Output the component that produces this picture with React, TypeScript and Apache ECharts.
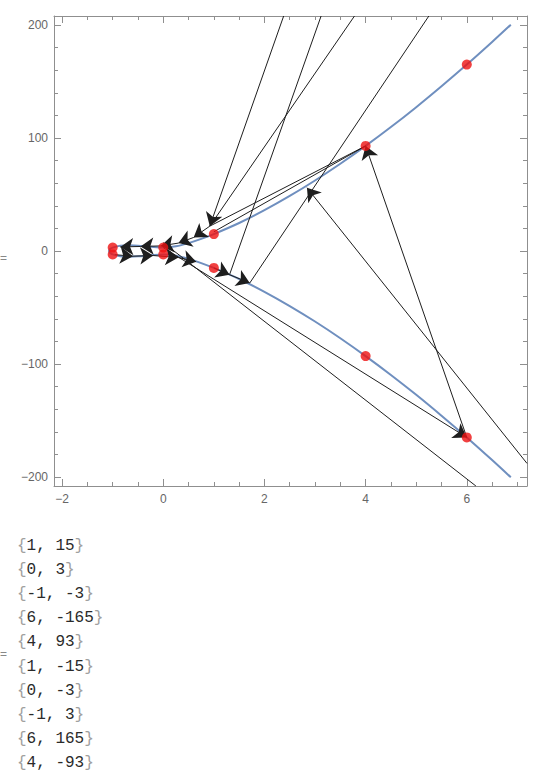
import React, { useEffect, useRef } from "react";
import * as echarts from "echarts";

// axis extents and ticks
const X_RANGE = [-2.16, 7.19];
const Y_RANGE = [-208, 208];
const X_MAJOR = [-2, 0, 2, 4, 6];
const X_MINOR = [-2, -1.5, -1, -0.5, 0, 0.5, 1, 1.5, 2, 2.5, 3, 3.5, 4, 4.5, 5, 5.5, 6, 6.5, 7];
const Y_MAJOR = [-200, -100, 0, 100, 200];
const Y_MINOR = [-200, -180, -160, -140, -120, -100, -80, -60, -40, -20, 0, 20, 40, 60, 80, 100, 120, 140, 160, 180, 200];

// the curve (lower branch from right, through the nose, upper branch to right)
const CURVE_X = [6.87, 6.5, 6, 5.5, 5, 4.5, 4, 3.5, 3, 2.5, 2, 1.5, 1, 0.75, 0.5, 0.25, 0, -0.25, -0.5, -0.67, -0.85, -1, -1.04, -1.06, -1.072,
  -1.06, -1.04, -1, -0.85, -0.67, -0.5, -0.25, 0, 0.25, 0.5, 0.75, 1, 1.5, 2, 2.5, 3, 3.5, 4, 4.5, 5, 5.5, 6, 6.5, 6.87];
const CURVE_Y = [-200.3, -185, -165, -145.8, -127.3, -109.7, -93, -77.2, -62.4, -48.7, -36.1, -24.8, -15, -10.7, -7.0, -4.2, -3, -3.75, -4.7, -5, -4.55, -3, -2.1, -1.3, 0,
  1.3, 2.1, 3, 4.55, 5, 4.7, 3.75, 3, 4.2, 7.0, 10.7, 15, 24.8, 36.1, 48.7, 62.4, 77.2, 93, 109.7, 127.3, 145.8, 165, 185, 200.3];

// red points
const POINTS_X = [1, 0, -1, 6, 4, 1, 0, -1, 6, 4];
const POINTS_Y = [15, 3, -3, -165, 93, -15, -3, 3, 165, -93];

// construction lines [x1, y1, x2, y2]
const PLAIN_SEGMENTS = [
  [3.78, 208, 0.92, 22],
  [3.12, 208, 1.31, -21],
  [5.25, 208, 1.71, -28.3],
  [4, 93, 0.92, 22],
  [4, 93, 1.0, 17],
  [0.0, 7.4, 6.18, -208],
];
const ARROW_SEGMENTS = [
  [2.38, 208, 0.92, 22],
  [7.19, -188, 2.84, 56],
  [6, -165, 4, 93],
  [0, 3, 6, -165],
  [0.92, 22, 0.6, 12],
  [0.6, 12, 0.3, 7],
  [0.3, 7, -0.05, 4.5],
  [-0.05, 4.5, -0.45, 4],
  [-0.45, 4, -0.85, 3.6],
  [-0.95, -3.3, -0.6, -4.6],
  [-0.6, -4.6, -0.2, -4],
  [-0.2, -4, 0.3, -5.8],
  [0.3, -5.8, 0.65, -9.5],
  [1.0, -15, 1.31, -21],
  [1.31, -21, 1.71, -28.3],
];

// printed output list
const LIST_X = [1, 0, -1, 6, 4, 1, 0, -1, 6, 4];
const LIST_Y = [15, 3, -3, -165, 93, -15, -3, 3, 165, -93];

const FRAME = "#8f8f8f";
const LABEL = "#666666";
const minus = (v: number) => (v < 0 ? "\u2212" + Math.abs(v) : String(v));

function xAxis(position: string, values: number[], len: number, labels: boolean, line: boolean) {
  return {
    type: "value",
    position,
    min: X_RANGE[0],
    max: X_RANGE[1],
    axisLine: { show: line, onZero: false, lineStyle: { color: FRAME, width: 1 } },
    axisTick: { show: true, inside: true, length: len, customValues: values, lineStyle: { color: FRAME, width: 1 } },
    axisLabel: {
      show: labels,
      customValues: values,
      formatter: (v: number) => minus(v),
      color: LABEL,
      fontSize: 12,
      fontFamily: "Liberation Sans",
      margin: 7,
    },
    splitLine: { show: false },
  };
}
function yAxis(position: string, values: number[], len: number, labels: boolean, line: boolean) {
  return {
    type: "value",
    position,
    min: Y_RANGE[0],
    max: Y_RANGE[1],
    axisLine: { show: line, onZero: false, lineStyle: { color: FRAME, width: 1 } },
    axisTick: { show: true, inside: true, length: len, customValues: values, lineStyle: { color: FRAME, width: 1 } },
    axisLabel: {
      show: labels,
      customValues: values,
      formatter: (v: number) => minus(v),
      color: LABEL,
      fontSize: 12,
      fontFamily: "Liberation Sans",
      margin: 6,
    },
    splitLine: { show: false },
  };
}

export default function App() {
  const ref = useRef<HTMLDivElement>(null);
  useEffect(() => {
    if (!ref.current) return;
    const chart = echarts.init(ref.current, null, { renderer: "svg" });
    const curve = CURVE_X.map((x, i) => [x, CURVE_Y[i]]);
    const pts = POINTS_X.map((x, i) => [x, POINTS_Y[i]]);
    const seg = (s: number[]) => ({ coords: [[s[0], s[1]], [s[2], s[3]]] });
    const listTexts = LIST_X.map((x, i) => ({
      type: "text",
      left: 17,
      top: 538 + i * 24.1,
      style: {
        text: "{{c|" + x + ", " + LIST_Y[i] + "}}",
        fill: "#a0a0a0",
        font: '16px "Liberation Mono", monospace',
        rich: { c: { fill: "#2a2a2a", font: '16px "Liberation Mono", monospace' } },
      },
    }));
    chart.setOption({
      animation: false,
      backgroundColor: "#ffffff",
      grid: { left: 54, right: 13, top: 16, bottom: 294, containLabel: false },
      xAxis: [
        xAxis("bottom", X_MAJOR, 7, true, true),
        xAxis("bottom", X_MINOR, 4, false, false),
        xAxis("top", X_MAJOR, 7, false, true),
        xAxis("top", X_MINOR, 4, false, false),
      ],
      yAxis: [
        yAxis("left", Y_MAJOR, 7, true, true),
        yAxis("left", Y_MINOR, 4, false, false),
        yAxis("right", Y_MAJOR, 7, false, true),
        yAxis("right", Y_MINOR, 4, false, false),
      ],
      series: [
        {
          type: "line",
          xAxisIndex: 0,
          yAxisIndex: 0,
          data: curve,
          showSymbol: false,
          smooth: 0.3,
          lineStyle: { color: "#6f8fbf", width: 2 },
          z: 2,
          silent: true,
        },
        {
          type: "lines",
          coordinateSystem: "cartesian2d",
          xAxisIndex: 0,
          yAxisIndex: 0,
          data: PLAIN_SEGMENTS.map(seg),
          symbol: ["none", "none"],
          lineStyle: { color: "#1e1e1e", width: 1, opacity: 1 },
          z: 3,
          silent: true,
        },
        {
          type: "lines",
          coordinateSystem: "cartesian2d",
          xAxisIndex: 0,
          yAxisIndex: 0,
          data: ARROW_SEGMENTS.map(seg),
          symbol: ["none", "arrow"],
          symbolSize: [9, 13],
          lineStyle: { color: "#1e1e1e", width: 1, opacity: 1 },
          itemStyle: { color: "#000000" },
          z: 4,
          silent: true,
        },
        {
          type: "scatter",
          xAxisIndex: 0,
          yAxisIndex: 0,
          data: pts,
          symbolSize: 10,
          itemStyle: { color: "#ee1111" },
          z: 5,
          silent: true,
        },
      ],
      graphic: [
        { type: "text", left: 0, top: 252, style: { text: "=", fill: "#888888", font: "12px Liberation Sans" } },
        { type: "text", left: 0, top: 648, style: { text: "=", fill: "#888888", font: "12px Liberation Sans" } },
        ...listTexts,
      ],
    });
    return () => chart.dispose();
  }, []);
  return (
    <div
      ref={ref}
      style={{ position: "fixed", left: 0, top: 0, width: 540, height: 780, background: "#fff" }}
    />
  );
}
